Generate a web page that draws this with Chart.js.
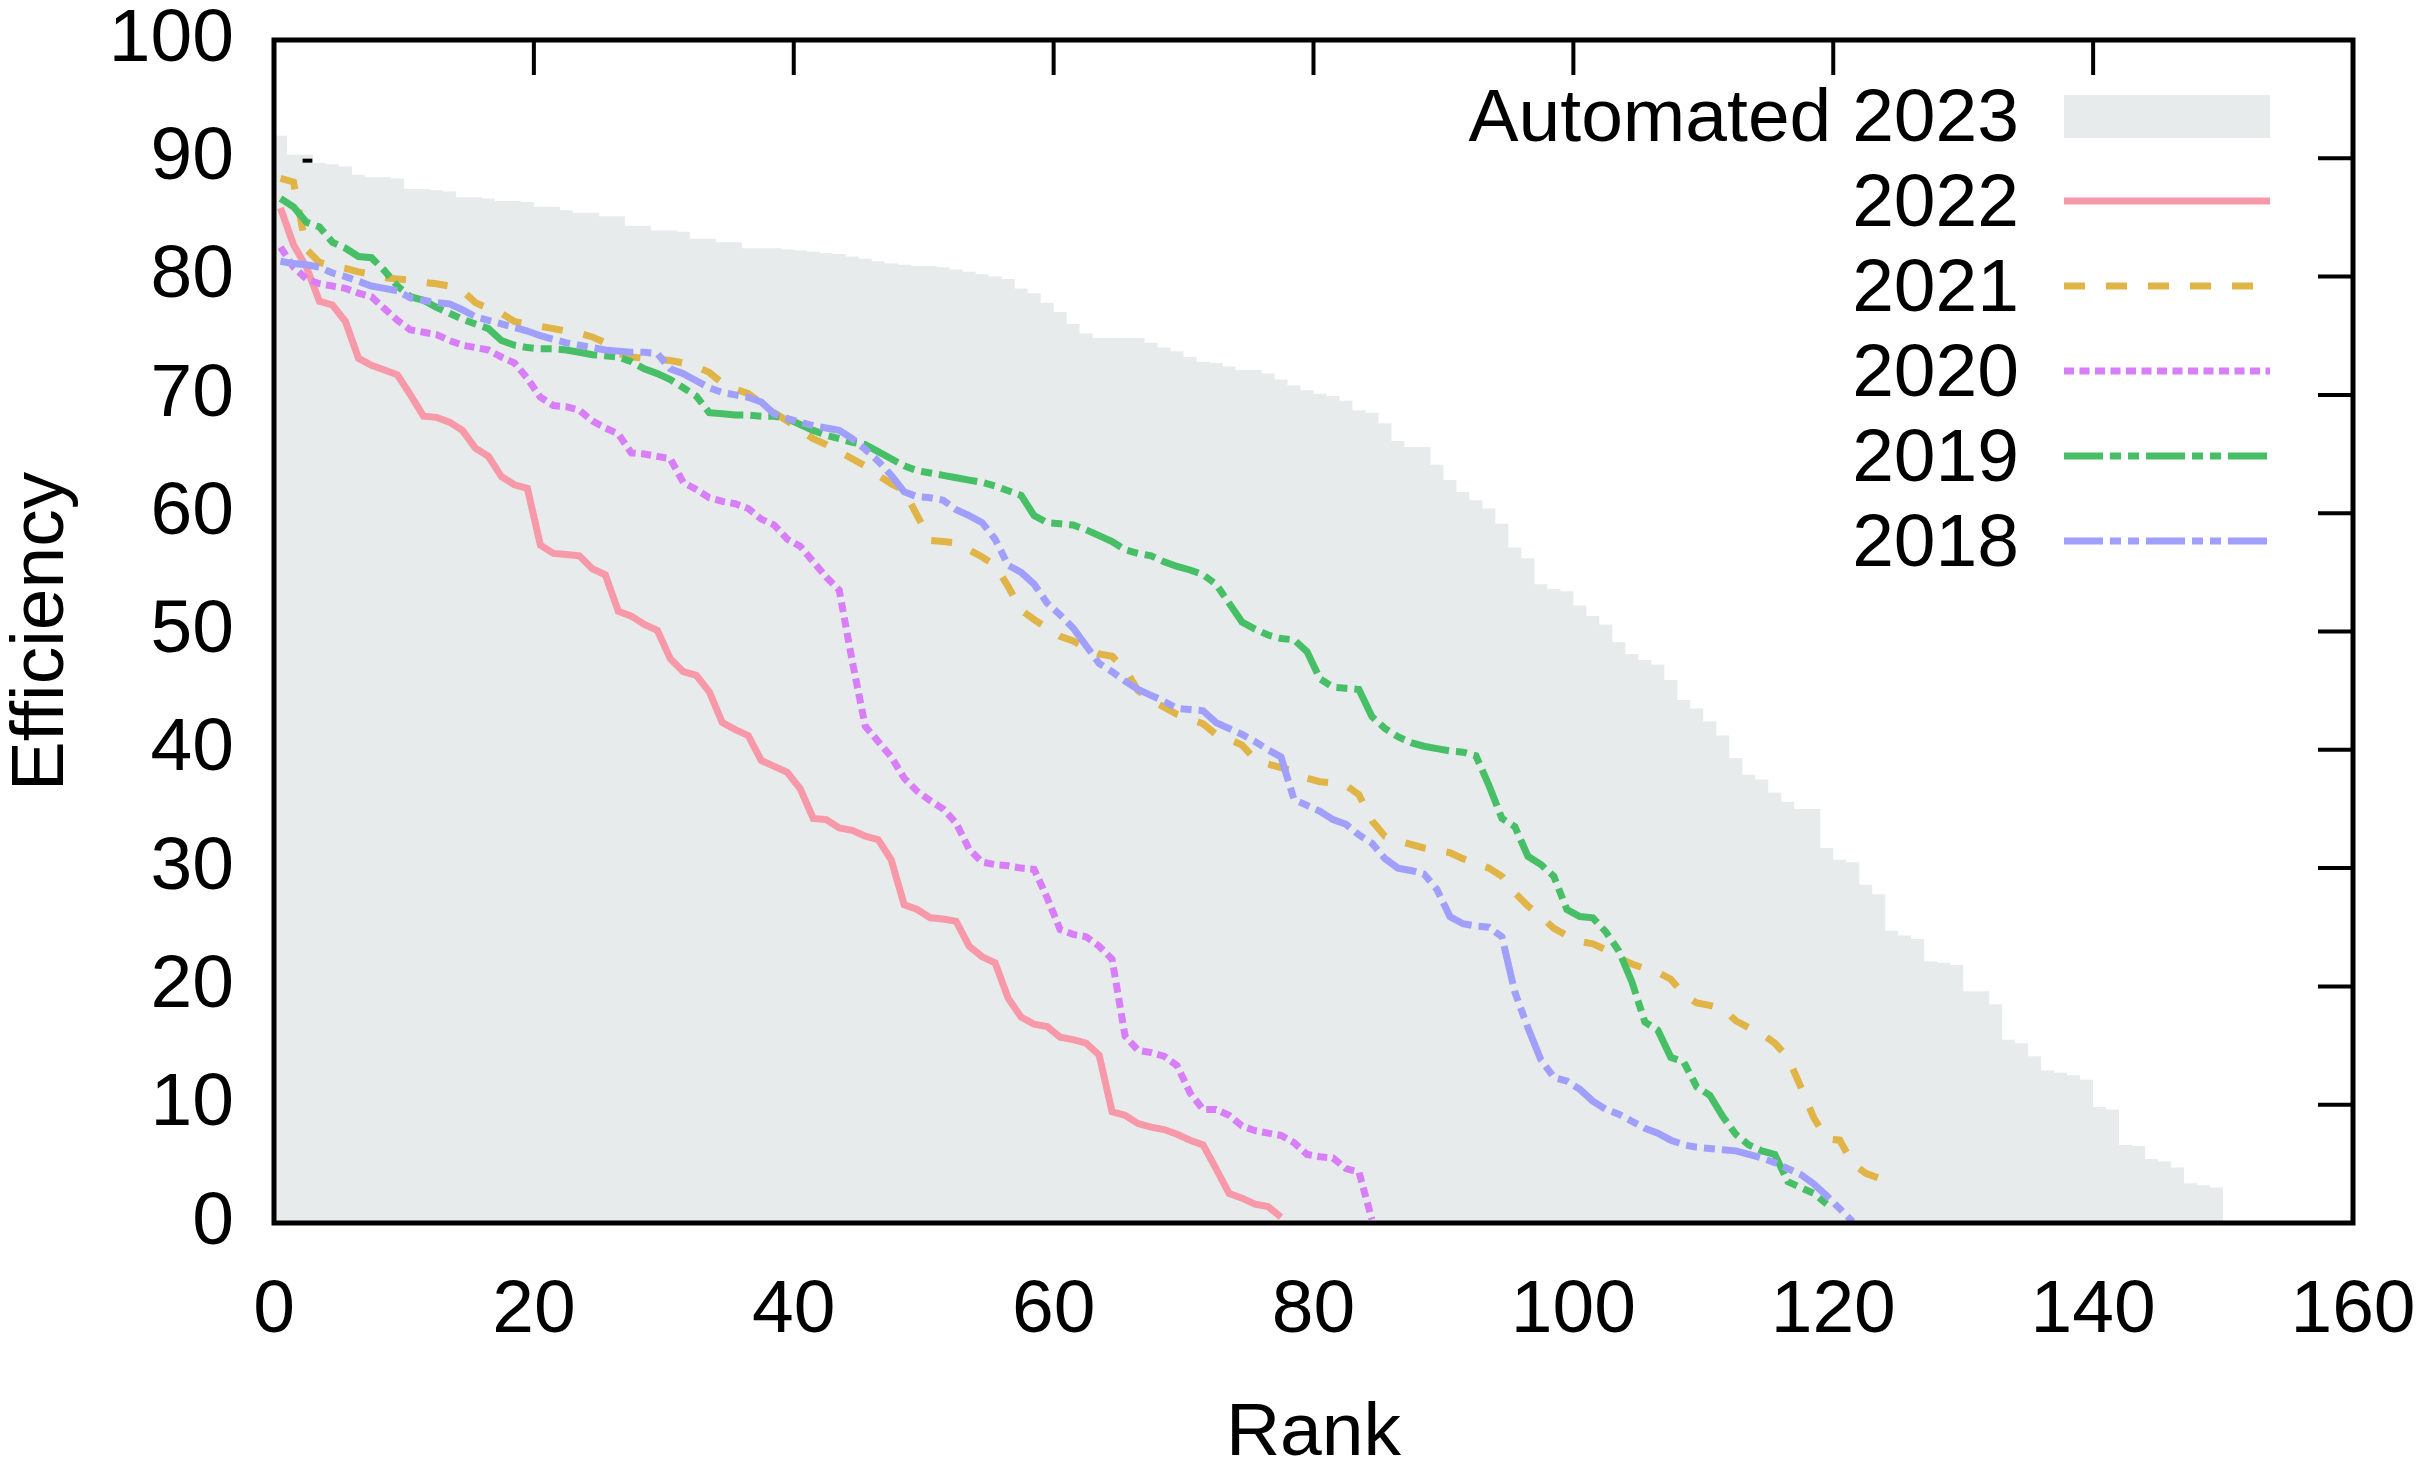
<!DOCTYPE html>
<html>
<head>
<meta charset="utf-8">
<title>Efficiency by rank</title>
<script src="https://cdn.jsdelivr.net/npm/chart.js@4.4.1/dist/chart.umd.min.js"></script>
<style>
  html, body { margin: 0; padding: 0; background: #fff; }
  canvas { display: block; }
</style>
</head>
<body>
<canvas id="myChart" width="2427" height="1482"></canvas>
<script>
// efficiency per rank
const eff2023 = [
  91.9, 90.3, 90.3, 89.6, 89.5, 89.3, 88.6, 88.4, 88.4, 88.3,
  87.4, 87.4, 87.3, 87.2, 86.7, 86.7, 86.6, 86.4, 86.4, 86.3,
  85.9, 85.9, 85.6, 85.4, 85.4, 85.1, 85.1, 84.3, 84.3, 83.9,
  83.9, 83.8, 83.2, 83.2, 82.9, 82.9, 82.4, 82.4, 82.4, 82.3,
  82.2, 82.1, 82.0, 81.9, 81.7, 81.5, 81.3, 81.1, 81.0, 80.9,
  80.9, 80.8, 80.6, 80.4, 80.2, 80.0, 79.8, 79.0, 78.6, 77.8,
  77.0, 76.0, 75.2, 74.8, 74.8, 74.8, 74.8, 74.4, 74.0, 73.7,
  73.2, 72.8, 72.7, 72.4, 72.1, 72.1, 71.8, 71.3, 70.8, 70.4,
  70.1, 69.9, 69.5, 68.7, 68.5, 67.6, 66.1, 65.6, 65.6, 64.1,
  62.8, 61.8, 61.1, 60.4, 59.1, 57.1, 56.2, 54.0, 53.6, 53.4,
  52.2, 51.3, 50.6, 49.1, 48.1, 47.6, 47.2, 45.9, 44.2, 43.5,
  42.4, 41.2, 39.3, 37.9, 37.5, 36.4, 35.6, 35.0, 35.0, 31.7,
  30.7, 30.5, 28.6, 27.8, 24.7, 24.3, 24.0, 22.1, 22.0, 21.8,
  19.6, 19.6, 18.5, 15.5, 15.2, 14.1, 12.9, 12.7, 12.5, 12.1,
  9.8, 9.6, 6.6, 6.5, 5.4, 5.2, 4.7, 3.35, 3.2, 3.0
];
const eff2022 = [
  85.8, 82.7, 80.8, 77.9, 77.6, 76.2, 73.1, 72.5, 72.1, 71.7,
  70.0, 68.2, 68.1, 67.7, 67.0, 65.5, 64.8, 63.1, 62.4, 62.1,
  57.3, 56.6, 56.5, 56.4, 55.3, 54.8, 51.7, 51.3, 50.6, 50.1,
  47.7, 46.6, 46.3, 44.9, 42.3, 41.7, 41.2, 39.1, 38.6, 38.1,
  36.7, 34.2, 34.1, 33.4, 33.2, 32.7, 32.4, 30.7, 26.9, 26.5,
  25.8, 25.7, 25.5, 23.4, 22.5, 22.0, 19.0, 17.4, 16.8, 16.6,
  15.7, 15.5, 15.2, 14.2, 9.4, 9.1, 8.4, 8.1, 7.9, 7.5,
  7.0, 6.6, 4.6, 2.5, 2.1, 1.6, 1.4, 0.5
];
const eff2021 = [
  88.3, 88.0, 82.3, 81.2, 80.9, 80.7, 80.4, 80.2, 79.9, 79.8,
  79.7, 79.5, 79.4, 79.2, 78.8, 77.8, 77.3, 76.9, 76.2, 76.0,
  75.8, 75.6, 75.4, 75.2, 74.9, 74.4, 73.5, 73.2, 73.1, 73.0,
  72.9, 72.7, 72.4, 71.9, 71.0, 70.5, 70.1, 69.3, 68.5, 67.8,
  67.0, 66.3, 65.8, 65.2, 64.6, 64.0, 63.2, 62.5, 61.9, 59.8,
  57.7, 57.6, 57.5, 56.9, 56.3, 55.6, 53.8, 51.8, 51.0, 50.3,
  49.6, 49.2, 48.6, 48.1, 47.9, 46.8, 45.0, 44.2, 43.6, 43.0,
  42.6, 42.2, 41.3, 40.9, 40.4, 39.2, 38.8, 38.5, 38.2, 37.6,
  37.3, 37.2, 37.0, 36.2, 34.0, 32.7, 32.3, 32.0, 31.7, 31.5,
  31.3, 30.8, 30.4, 30.0, 29.3, 27.9, 26.8, 25.9, 24.9, 24.3,
  23.8, 23.6, 23.1, 22.4, 21.9, 21.5, 21.2, 20.6, 19.3, 18.6,
  18.4, 18.1, 17.1, 16.5, 16.0, 15.2, 14.0, 11.5, 8.9, 7.1,
  7.0, 5.0, 4.2, 3.8, 3.2
];
const eff2020 = [
  82.5, 80.8, 79.8, 79.4, 79.2, 79.0, 78.6, 78.3, 77.3, 76.3,
  75.5, 75.3, 75.1, 74.6, 74.2, 74.0, 73.8, 73.2, 72.7, 71.4,
  69.8, 69.1, 69.0, 68.7, 67.8, 67.2, 66.7, 65.1, 65.0, 64.8,
  64.6, 62.6, 62.0, 61.3, 61.0, 60.8, 60.4, 59.5, 59.0, 57.8,
  57.2, 55.9, 54.6, 53.5, 47.5, 42.0, 40.7, 39.4, 37.6, 36.5,
  35.7, 35.0, 33.8, 31.6, 30.5, 30.3, 30.2, 30.0, 29.9, 27.5,
  24.8, 24.4, 24.2, 23.4, 22.3, 15.8, 14.6, 14.4, 14.1, 13.3,
  11.0, 9.6, 9.6, 9.1, 8.2, 7.8, 7.6, 7.4, 6.8, 5.8,
  5.6, 5.5, 4.6, 4.3, 0.3
];
const eff2019 = [
  86.6, 85.9, 84.6, 84.2, 82.9, 82.4, 81.7, 81.6, 80.5, 79.2,
  78.3, 78.0, 77.4, 76.9, 76.4, 76.0, 75.6, 74.6, 74.2, 74.0,
  73.9, 73.9, 73.8, 73.6, 73.4, 73.3, 73.2, 72.8, 72.2, 71.8,
  71.3, 70.6, 69.9, 68.5, 68.4, 68.3, 68.3, 68.2, 68.2, 68.0,
  67.5, 67.0, 66.6, 66.3, 66.0, 65.8, 65.2, 64.6, 64.0, 63.6,
  63.4, 63.2, 63.0, 62.8, 62.6, 62.3, 61.9, 61.5, 59.8, 59.2,
  59.1, 59.0, 58.6, 58.1, 57.6, 56.9, 56.6, 56.4, 55.9, 55.5,
  55.2, 54.8, 54.0, 52.4, 50.8, 50.2, 49.7, 49.4, 49.3, 48.3,
  46.0, 45.3, 45.2, 45.1, 42.8, 41.8, 41.1, 40.6, 40.3, 40.1,
  39.9, 39.8, 39.5, 37.0, 34.2, 33.5, 31.0, 30.3, 29.3, 26.5,
  25.9, 25.8, 24.6, 23.0, 20.4, 17.0, 16.3, 14.0, 13.6, 11.5,
  10.8, 9.0, 7.5, 6.6, 6.1, 5.8, 3.5, 3.0, 2.5, 1.6
];
const eff2018 = [
  81.3, 81.1, 81.0, 80.8, 80.3, 80.0, 79.6, 79.2, 79.0, 78.8,
  78.2, 78.0, 77.8, 77.7, 77.2, 76.6, 76.3, 76.0, 75.7, 75.4,
  75.0, 74.7, 74.4, 74.2, 74.0, 73.8, 73.7, 73.6, 73.6, 73.5,
  72.2, 71.8, 71.2, 70.6, 70.2, 70.0, 69.8, 69.4, 68.4, 68.0,
  67.7, 67.4, 67.2, 67.0, 66.3, 65.4, 64.4, 63.2, 61.8, 61.4,
  61.3, 61.1, 60.3, 59.8, 59.2, 57.8, 55.6, 55.0, 54.0, 52.4,
  51.4, 50.3, 48.8, 47.3, 46.6, 45.8, 45.1, 44.6, 44.1, 43.5,
  43.4, 43.3, 42.3, 41.8, 41.3, 40.7, 40.0, 39.4, 35.8, 35.3,
  34.8, 34.1, 33.7, 32.8, 32.1, 30.8, 30.0, 29.8, 29.5, 28.2,
  25.9, 25.3, 25.1, 25.0, 24.2, 19.5, 16.5, 13.8, 12.3, 12.0,
  11.3, 10.3, 9.6, 9.2, 8.6, 8.0, 7.6, 7.0, 6.6, 6.4,
  6.3, 6.2, 6.1, 5.8, 5.5, 5.1, 4.6, 4.1, 3.3, 2.3,
  1.2, 0.1
];
// the little black dash near the top left of the plot
const markRanks = [2.2, 2.95];
const markValues = [89.8, 89.8];

const xTicks = { min: 0, max: 160, step: 20 };
const yTicks = { min: 0, max: 100, step: 10 };

const GREY = '#e8ebeb';
const FONT = 'Liberation Sans';

// each rank's value sits in the middle of its bin
const toPoints = (vals) => vals.map((v, i) => ({ x: i + 0.5, y: v }));
// bars for the automated run: bin i spans [i, i+1]
const toSteps = (vals) =>
  vals.map((v, i) => ({ x: i, y: v })).concat([{ x: vals.length, y: vals[vals.length - 1] }]);

const lineDs = (label, vals, color, dash, order) => ({
  label,
  data: toPoints(vals),
  borderColor: color,
  backgroundColor: color,
  borderWidth: 7,
  borderDash: dash,
  pointRadius: 0,
  fill: false,
  order,
});

const datasets = [
  {
    label: 'Automated 2023',
    data: toSteps(eff2023),
    stepped: true,
    fill: 'origin',
    backgroundColor: GREY,
    borderColor: 'rgba(0,0,0,0)',
    borderWidth: 1,
    pointRadius: 0,
    order: 7,
  },
  lineDs('2022', eff2022, '#f799a8', [], 6),
  lineDs('2021', eff2021, '#e0b446', [21, 21], 5),
  lineDs('2020', eff2020, '#d87ef8', [10, 5.5], 4),
  lineDs('2019', eff2019, '#47bf67', [39, 7, 11, 7, 11, 7], 3),
  lineDs('2018', eff2018, '#a0a0fc', [39, 7, 11, 7, 11, 7], 2),
  {
    label: '',
    data: markRanks.map((x, i) => ({ x, y: markValues[i] })),
    borderColor: '#000',
    borderWidth: 4,
    pointRadius: 0,
    fill: false,
    order: 1,
    hideInLegend: true,
  },
];

// gnuplot style frame with inward ticks on the top and right sides
const frame = {
  id: 'frame',
  afterDatasetsDraw(chart) {
    const { ctx, chartArea: a, scales } = chart;
    ctx.save();
    ctx.strokeStyle = '#000';
    ctx.lineWidth = 4;
    scales.x.ticks.forEach((t) => {
      if (t.value <= scales.x.min || t.value >= scales.x.max) return;
      const px = scales.x.getPixelForValue(t.value);
      ctx.beginPath();
      ctx.moveTo(px, a.top);
      ctx.lineTo(px, a.top + 35);
      ctx.stroke();
    });
    scales.y.ticks.forEach((t) => {
      if (t.value <= scales.y.min || t.value >= scales.y.max) return;
      const py = scales.y.getPixelForValue(t.value);
      ctx.beginPath();
      ctx.moveTo(a.right, py);
      ctx.lineTo(a.right - 35, py);
      ctx.stroke();
    });
    ctx.lineWidth = 5;
    ctx.strokeRect(a.left, a.top, a.right - a.left, a.bottom - a.top);
    ctx.restore();
  },
};

// key in the top right corner: text right aligned, sample to its right
const key = {
  id: 'key',
  afterDraw(chart) {
    const { ctx } = chart;
    const textRight = 2019;
    const x0 = 2064;
    const x1 = 2270;
    const top = 116;
    const rowH = 85;
    ctx.save();
    ctx.font = '75px "' + FONT + '"';
    ctx.fillStyle = '#000';
    ctx.textAlign = 'right';
    ctx.textBaseline = 'alphabetic';
    let row = 0;
    chart.data.datasets.forEach((ds) => {
      if (ds.hideInLegend) return;
      const y = top + row * rowH;
      ctx.fillStyle = '#000';
      ctx.fillText(ds.label, textRight, y + 25);
      if (ds.fill) {
        ctx.fillStyle = ds.backgroundColor;
        ctx.fillRect(x0, y - 21, x1 - x0, 43);
      } else {
        ctx.strokeStyle = ds.borderColor;
        ctx.lineWidth = ds.borderWidth;
        ctx.setLineDash(ds.borderDash || []);
        ctx.beginPath();
        ctx.moveTo(x0, y);
        ctx.lineTo(x1, y);
        ctx.stroke();
        ctx.setLineDash([]);
      }
      row++;
    });
    ctx.restore();
  },
};

Chart.defaults.font.family = FONT;
Chart.defaults.color = '#000';

const ctx = document.getElementById('myChart').getContext('2d');
const myChart = new Chart(ctx, {
  type: 'line',
  data: { datasets },
  options: {
    responsive: false,
    animation: false,
    devicePixelRatio: 1,
    layout: { padding: { top: 40, right: 74, left: 0, bottom: 0 } },
    plugins: {
      legend: { display: false },
      tooltip: { enabled: false },
    },
    scales: {
      x: {
        type: 'linear',
        min: xTicks.min,
        max: xTicks.max,
        grid: { display: false },
        border: { display: false },
        ticks: {
          stepSize: xTicks.step,
          padding: 35,
          maxRotation: 0,
          autoSkip: false,
          font: { size: 75 },
          color: '#000',
        },
        title: {
          display: true,
          text: 'Rank',
          font: { size: 75, lineHeight: 1 },
          padding: { top: 0, bottom: 10 },
          color: '#000',
        },
        afterFit: (s) => {
          s.height = 259;
          s.paddingLeft = 0;
          s.paddingRight = 0;
        },
      },
      y: {
        min: yTicks.min,
        max: yTicks.max,
        grid: { display: false },
        border: { display: false },
        ticks: {
          stepSize: yTicks.step,
          padding: 32,
          autoSkip: false,
          font: { size: 75 },
          color: '#000',
        },
        title: {
          display: true,
          text: 'Efficiency',
          font: { size: 75, lineHeight: 1 },
          padding: { top: 5, bottom: 0 },
          color: '#000',
        },
        afterFit: (s) => {
          s.width = 274;
          s.paddingTop = 0;
          s.paddingBottom = 0;
        },
      },
    },
  },
  plugins: [frame, key],
});
</script>
</body>
</html>
